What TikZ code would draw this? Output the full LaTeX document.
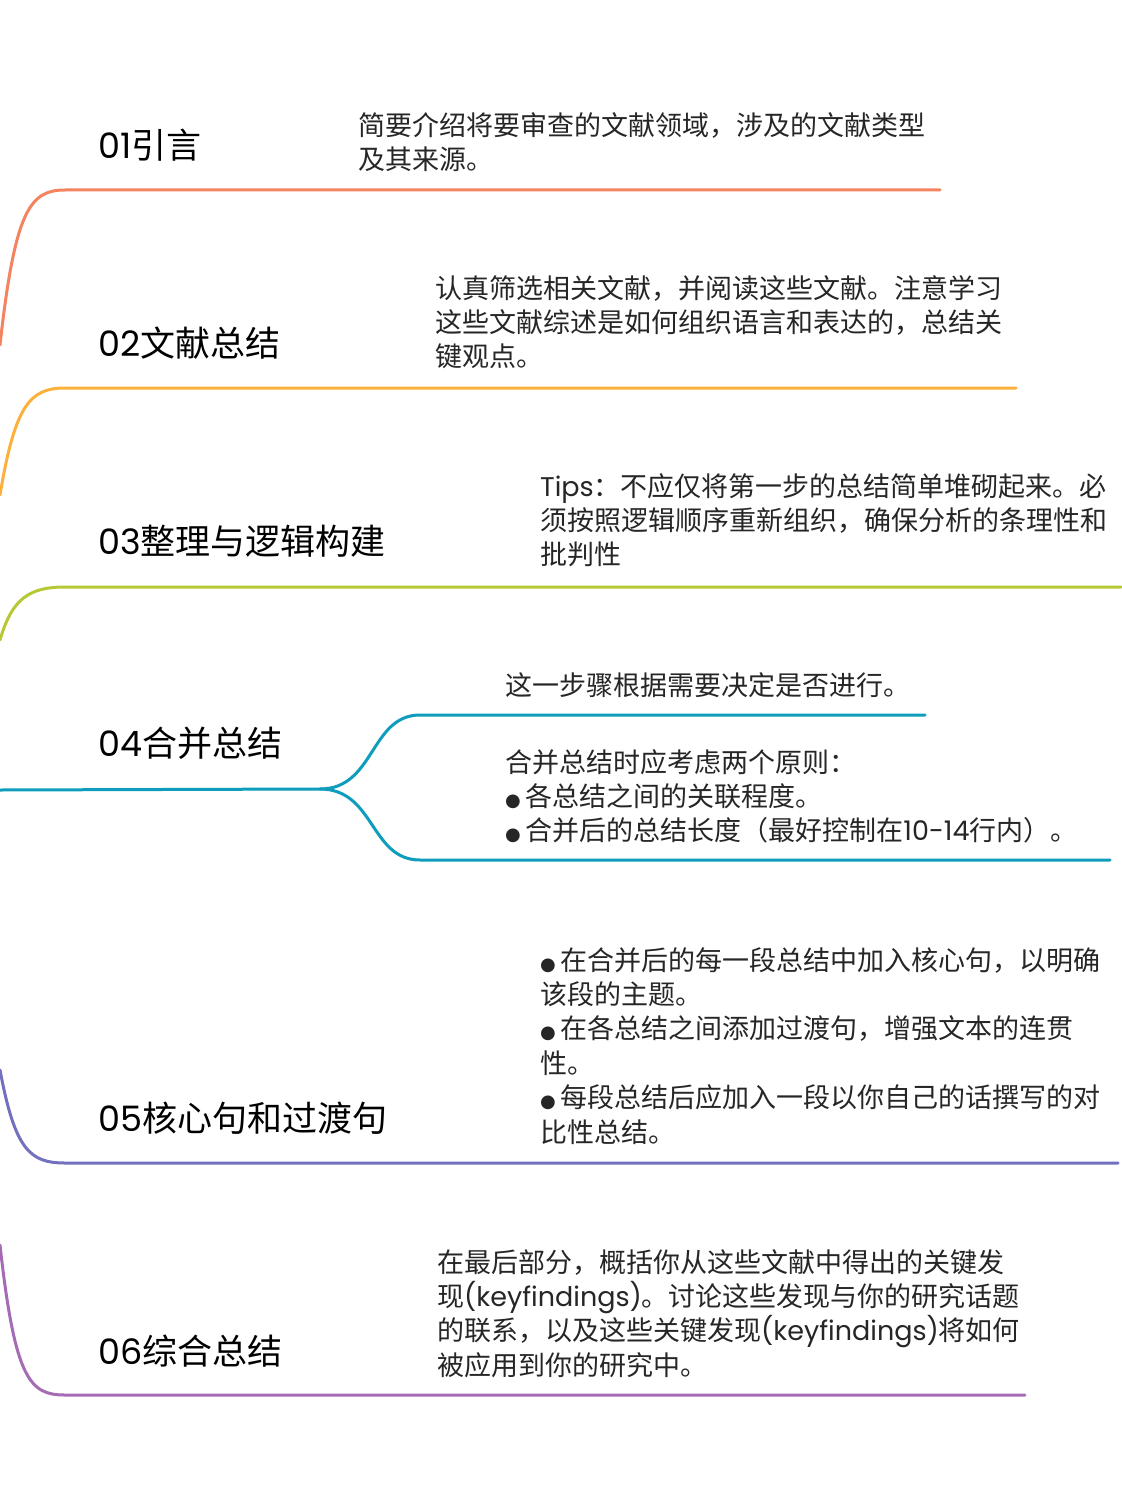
\documentclass[tikz,border=0pt]{standalone}
\usepackage{fontspec}
\setmainfont{Noto Sans CJK SC}
\newfontfamily\pop{Poppins}
\newfontfamily\dvs{DejaVu Sans}
\newcommand{\bul}{{\dvs\fontsize{18}{20}\selectfont ●}\,}
\begin{document}
\begin{tikzpicture}[x=1pt,y=-1pt,
  title/.style={anchor=west,inner sep=0,font=\fontsize{35}{40}\selectfont},
  body/.style={anchor=north west,inner sep=0,align=left,font=\fontsize{27}{34.4}\selectfont,text=black!85},
  br/.style={line width=3pt,line cap=round}]
\useasboundingbox[fill=white] (0,0) rectangle (1121,1495);
\definecolor{c1}{HTML}{F4845F}\definecolor{c2}{HTML}{FBB13C}\definecolor{c3}{HTML}{B7C835}
\definecolor{c4}{HTML}{0E9DBC}\definecolor{c5}{HTML}{7470C0}\definecolor{c6}{HTML}{A56CB5}
% branches
\draw[br,c1] (0,345) .. controls (15,210) and (30,190) .. (65,190) -- (940,190);
\draw[br,c2] (0,495) .. controls (15,405) and (30,388) .. (65,388) -- (1016,388);
\draw[br,c3] (0,640) .. controls (12,598) and (30,587) .. (65,587) -- (1121,587);
\draw[br,c4] (0,790) -- (320,789);
\draw[br,c4] (320,789) .. controls (375,789) and (370,715) .. (420,715) -- (925,715);
\draw[br,c4] (320,789) .. controls (375,789) and (370,860) .. (420,860) -- (1110,860);
\draw[br,c5] (0,1070) .. controls (15,1150) and (30,1163) .. (65,1163) -- (1118,1163);
\draw[br,c6] (0,1245) .. controls (15,1380) and (30,1395) .. (65,1395) -- (1025,1395);
% titles
\node[title] (t1) at (98,145) {{\pop 01}引言};
\node[title] (t2) at (98,343) {{\pop 02}文献总结};
\node[title] (t3) at (98,541) {{\pop 03}整理与逻辑构建};
\node[title] (t4) at (98,743) {{\pop 04}合并总结};
\node[title] (t5) at (98,1118) {{\pop 05}核心句和过渡句};
\node[title] (t6) at (98,1351) {{\pop 06}综合总结};
% bodies
\node[body] (b1) at (358,112) {简要介绍将要审查的文献领域，涉及的文献类型\\及其来源。};
\node[body] (b2) at (435,275) {认真筛选相关文献，并阅读这些文献。注意学习\\这些文献综述是如何组织语言和表达的，总结关\\键观点。};
\node[body] (b3) at (540,473) {{\pop Tips}：不应仅将第一步的总结简单堆砌起来。必\\须按照逻辑顺序重新组织，确保分析的条理性和\\批判性};
\node[body] (b4a) at (505,672) {这一步骤根据需要决定是否进行。};
\node[body] (b4b) at (505,749) {合并总结时应考虑两个原则：\\\bul 各总结之间的关联程度。\\\bul 合并后的总结长度（最好控制在{\pop 10-14}行内）。};
\node[body] (b5) at (540,947) {\bul 在合并后的每一段总结中加入核心句，以明确\\该段的主题。\\\bul 在各总结之间添加过渡句，增强文本的连贯\\性。\\\bul 每段总结后应加入一段以你自己的话撰写的对\\比性总结。};
\node[body] (b6) at (437,1249) {在最后部分，概括你从这些文献中得出的关键发\\现{\pop(keyfindings)}。讨论这些发现与你的研究话题\\的联系，以及这些关键发现{\pop(keyfindings)}将如何\\被应用到你的研究中。};
\end{tikzpicture}
\end{document}
